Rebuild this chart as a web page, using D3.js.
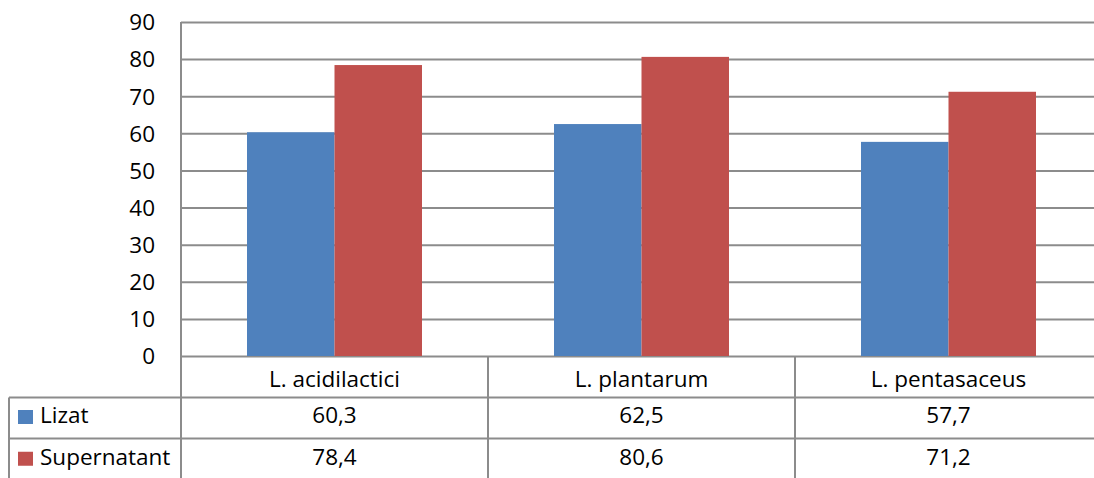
<!DOCTYPE html>
<html>
<head>
<meta charset="utf-8">
<script src="https://cdn.jsdelivr.net/npm/d3@7"></script>
<style>
    body { margin: 0; background: #fff; }
    text { font-family: "Open Sans", sans-serif; font-size: 22.5px; fill: #000; }
</style>
</head>
<body>
<svg width="1094" height="478"></svg>
<script>
let categories = ['L. acidilactici', 'L. plantarum', 'L. pentasaceus']
let seriesNames = ['Lizat', 'Supernatant']
let lizat = [60.3, 62.5, 57.7]
let supernatant = [78.4, 80.6, 71.2]
let yTicks = [0, 10, 20, 30, 40, 50, 60, 70, 80, 90]
let colors = ['#4F81BD', '#C0504D']

let values = [lizat, supernatant]
let svg = d3.select('svg')
let grid = '#8c8c8c'

let plot = { left: 181, right: 1102, top: 22, bottom: 356 }
let rows = [356, 397.5, 438.5, 481]
let tableLeft = 9

let scale = {
    x: d3.scaleBand().domain(categories).range([plot.left, plot.right]),
    y: d3.scaleLinear().domain([0, 90]).range([plot.bottom, plot.top])
}
let bw = scale.x.bandwidth()
let inner = d3.scaleBand().domain(seriesNames).range([bw * 0.215, bw * 0.785])

let fmt = v => String(v).replace('.', ',')

function label(g, x, y, str, anchor) {
    g.append('text')
        .attr('x', x)
        .attr('y', y)
        .attr('text-anchor', anchor)
        .attr('dy', '0.35em')
        .text(str)
}

// Y axis with gridlines
let yAxis = svg.append('g')
    .attr('transform', `translate(${plot.left},0)`)
    .call(d3.axisLeft(scale.y).tickValues(yTicks).tickSize(-(plot.right - plot.left)).tickPadding(26))
yAxis.select('.domain').remove()
yAxis.selectAll('line').attr('stroke', grid).attr('stroke-width', 2)
yAxis.selectAll('text')
    .attr('dy', '0.35em')
    .style('font-family', '"Open Sans", sans-serif')
    .style('font-size', '22.5px')

// bars
categories.forEach((c, i) => {
    seriesNames.forEach((s, j) => {
        svg.append('rect')
            .attr('x', scale.x(c) + inner(s))
            .attr('y', scale.y(values[j][i]))
            .attr('width', inner.bandwidth())
            .attr('height', scale.y(0) - scale.y(values[j][i]))
            .attr('fill', colors[j])
    })
})

// data table
let t = svg.append('g')
let line = (x1, y1, x2, y2) => t.append('line')
    .attr('x1', x1).attr('y1', y1).attr('x2', x2).attr('y2', y2)
    .attr('stroke', grid).attr('stroke-width', 2)

line(plot.left, plot.top, plot.left, rows[3])
categories.forEach(c => line(scale.x(c) + bw, rows[0], scale.x(c) + bw, rows[3]))
line(tableLeft, rows[1], plot.right, rows[1])
line(tableLeft, rows[2], plot.right, rows[2])
line(tableLeft, rows[3], plot.right, rows[3])
line(tableLeft, rows[1], tableLeft, rows[3])

categories.forEach((c, i) => {
    let cx = scale.x(c) + bw / 2
    label(t, cx, (rows[0] + rows[1]) / 2 + 2, c, 'middle')
    values.forEach((v, j) => label(t, cx, (rows[j + 1] + rows[j + 2]) / 2 - 2.5, fmt(v[i]), 'middle'))
})

seriesNames.forEach((s, j) => {
    let cy = (rows[j + 1] + rows[j + 2]) / 2
    t.append('rect')
        .attr('x', 18).attr('y', cy - 8)
        .attr('width', 15).attr('height', 14)
        .attr('fill', colors[j])
    label(t, 40, cy - 2.5, s, 'start')
})
</script>
</body>
</html>
